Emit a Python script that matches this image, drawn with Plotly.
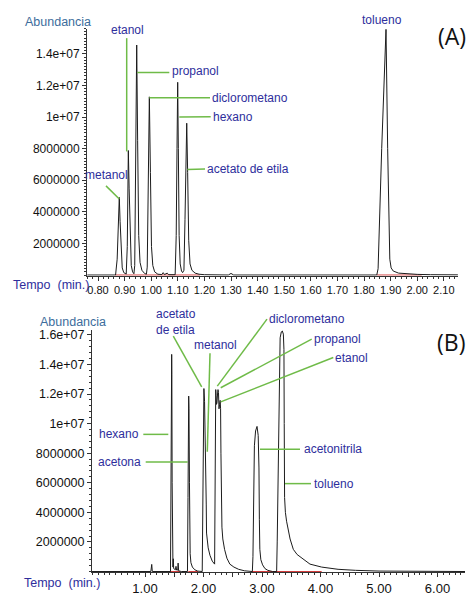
import plotly.graph_objects as go

W, H = 469, 596

# ---------------- DATA ----------------
# Panel A chromatogram: (time [min], abundance)
A_TRACE = [
    (0.760, 0), (0.866, 0),
    # metanol
    (0.872, 1.0e6), (0.877, 3.8e6), (0.880, 4.91e6), (0.883, 3.4e6), (0.887, 1.2e6),
    (0.891, 0.45e6), (0.897, 0.15e6), (0.903, 0.06e6),
    # etanol
    (0.906, 0.06e6), (0.910, 1.8e6), (0.912, 5.5e6), (0.914, 7.88e6), (0.917, 5.5e6),
    (0.921, 1.8e6), (0.925, 0.6e6), (0.930, 0.2e6), (0.935, 0.08e6),
    # propanol
    (0.938, 0.6e6), (0.942, 7.0e6), (0.9455, 14.56e6), (0.949, 8.5e6), (0.953, 2.5e6),
    (0.958, 0.8e6), (0.965, 0.3e6), (0.975, 0.1e6), (0.982, 0.05e6),
    # diclorometano
    (0.985, 0.5e6), (0.989, 5.5e6), (0.993, 11.28e6), (0.997, 6.5e6), (1.001, 1.8e6),
    (1.006, 0.6e6), (1.013, 0.2e6), (1.025, 0.05e6),
    (1.040, 0.03e6), (1.045, 0.15e6), (1.050, 0.03e6), (1.060, 0.12e6), (1.066, 0.02e6),
    (1.090, 0.02e6),
    # hexano
    (1.094, 2.5e6), (1.097, 8.0e6), (1.0996, 12.2e6), (1.102, 8.0e6), (1.105, 2.5e6),
    (1.109, 0.7e6), (1.114, 0.25e6), (1.118, 0.15e6),
    # acetato de etila
    (1.123, 0.3e6), (1.127, 3.5e6), (1.130, 7.5e6), (1.1335, 9.61e6), (1.137, 6.5e6),
    (1.141, 2.2e6), (1.146, 0.7e6), (1.153, 0.3e6), (1.165, 0.12e6), (1.180, 0.05e6),
    (1.200, 0.02e6),
    (1.290, 0), (1.300, 0.1e6), (1.310, 0), (1.848, 0),
    # tolueno
    (1.853, 0.4e6), (1.8665, 8.0e6), (1.876, 13.0e6), (1.8827, 15.55e6), (1.889, 8.0e6),
    (1.893, 3.0e6), (1.897, 1.0e6), (1.902, 0.45e6), (1.910, 0.25e6), (1.930, 0.12e6),
    (1.960, 0.07e6), (2.000, 0.04e6), (2.050, 0.02e6), (2.153, 0.01e6),
]

# Panel B chromatogram: (time [min], abundance)
B_TRACE = [
    (0.094, 0), (1.100, 0), (1.115, 0.48e6), (1.125, 0), (1.436, 0),
    # hexano
    (1.441, 5.0e6), (1.447, 13.3e6), (1.452, 13.4e6), (1.456, 14.68e6), (1.459, 13.3e6),
    (1.464, 6.0e6), (1.468, 1.5e6), (1.472, 0.5e6), (1.478, 0.3e6), (1.484, 0.86e6),
    (1.490, 0.2e6), (1.520, 0.12e6), (1.530, 0.35e6), (1.540, 0.1e6), (1.560, 0.1e6),
    (1.566, 0.57e6), (1.575, 0.05e6), (1.620, 0), (1.726, 0),
    # acetona
    (1.735, 5.0e6), (1.743, 11.5e6), (1.747, 11.86e6), (1.752, 11.0e6), (1.760, 6.0e6),
    (1.766, 2.5e6), (1.772, 1.2e6), (1.785, 0.6e6), (1.810, 0.3e6), (1.850, 0.12e6),
    (1.900, 0.03e6), (1.978, 0),
    # acetato de etila + metanol
    (1.985, 4.0e6), (1.995, 10.5e6), (2.007, 12.37e6), (2.018, 11.5e6), (2.028, 9.5e6),
    (2.034, 7.2e6), (2.038, 8.1e6), (2.042, 7.0e6), (2.047, 4.5e6), (2.052, 2.6e6),
    (2.060, 2.1e6), (2.080, 1.6e6), (2.110, 1.1e6), (2.150, 0.7e6), (2.190, 0.5e6),
    # diclorometano / propanol / etanol
    (2.195, 3.0e6), (2.200, 8.0e6), (2.205, 11.5e6), (2.209, 12.3e6), (2.215, 11.9e6),
    (2.222, 11.3e6), (2.230, 11.4e6), (2.240, 12.0e6), (2.248, 12.3e6), (2.256, 12.1e6),
    (2.265, 11.0e6), (2.275, 11.3e6), (2.285, 11.57e6), (2.292, 11.0e6), (2.298, 8.0e6),
    (2.305, 5.0e6), (2.315, 3.0e6), (2.330, 2.2e6), (2.360, 1.5e6), (2.400, 0.9e6),
    (2.450, 0.5e6), (2.520, 0.3e6), (2.600, 0.15e6), (2.700, 0.05e6), (2.835, 0),
    # acetonitrila
    (2.845, 1.0e6), (2.855, 5.0e6), (2.870, 8.5e6), (2.890, 9.5e6), (2.915, 9.81e6),
    (2.935, 9.2e6), (2.948, 7.0e6), (2.955, 3.5e6), (2.963, 1.5e6), (2.980, 0.8e6),
    (3.010, 0.45e6), (3.050, 0.2e6), (3.100, 0.08e6), (3.180, 0), (3.250, 0),
    # tolueno
    (3.260, 2.0e6), (3.280, 8.0e6), (3.300, 14.5e6), (3.310, 15.8e6), (3.330, 16.2e6),
    (3.347, 16.26e6), (3.365, 16.05e6), (3.375, 15.0e6), (3.380, 10.0e6), (3.386, 5.0e6),
    (3.400, 4.0e6), (3.420, 3.4e6), (3.480, 2.2e6), (3.535, 1.5e6), (3.600, 1.15e6),
    (3.680, 0.9e6), (3.820, 0.5e6), (4.020, 0.3e6), (4.300, 0.15e6), (4.600, 0.08e6),
    (5.000, 0.03e6), (6.470, 0),
]

# integration baselines (red), start/end times
A_BASELINE = [(0.864, 1.183), (1.848, 2.017)]
B_BASELINE = [(1.415, 1.600), (1.740, 1.910), (2.820, 4.020)]

A_XTICKS = [0.8, 0.9, 1.0, 1.1, 1.2, 1.3, 1.4, 1.5, 1.6, 1.7, 1.8, 1.9, 2.0, 2.1]
A_XTICKTEXT = ["0.80", "0.90", "1.00", "1.10", "1.20", "1.30", "1.40", "1.50",
               "1.60", "1.70", "1.80", "1.90", "2.00", "2.10"]
A_YTICKS = [2e6, 4e6, 6e6, 8e6, 1e7, 1.2e7, 1.4e7]
A_YTICKTEXT = ["2000000", "4000000", "6000000", "8000000", "1e+07", "1.2e+07", "1.4e+07"]

B_XTICKS = [1.0, 1.5, 2.0, 2.5, 3.0, 3.5, 4.0, 4.5, 5.0, 5.5, 6.0]
B_XTICKTEXT = ["1.00", "", "2.00", "", "3.00", "", "4.00", "", "5.00", "", "6.00"]
B_YTICKS = [2e6, 4e6, 6e6, 8e6, 1e7, 1.2e7, 1.4e7, 1.6e7]
B_YTICKTEXT = ["2000000", "4000000", "6000000", "8000000", "1e+07", "1.2e+07",
               "1.4e+07", "1.6e+07"]

A_NAMES = ["etanol", "propanol", "diclorometano", "hexano", "acetato de etila",
           "metanol", "tolueno"]
B_NAMES = ["hexano", "acetona", "acetato<br>de etila", "metanol", "diclorometano",
           "propanol", "etanol", "acetonitrila", "tolueno"]

Y_TITLE = "Abundancia"
X_TITLE = "Tempo&nbsp;&nbsp;(min.)"

# ---------------- STYLE / LAYOUT ----------------
FONT = "Liberation Sans, Arial, sans-serif"
LABEL_BLUE = "#2e2e9c"
TITLE_BLUE = "#3d6d9c"
GREEN = "#6fbb48"
RED = "#d23a3a"
LINE = "#1c1c1c"
AX = "#333333"


def px(x):
    return x / W


def py(y):
    return 1 - y / H


def baseline_xy(segs):
    xs, ys = [], []
    for a, b in segs:
        xs += [a, b, None]
        ys += [0, 0, None]
    return xs, ys


fig = go.Figure()

for trace, segs, xa, ya in [(A_TRACE, A_BASELINE, "x", "y"),
                            (B_TRACE, B_BASELINE, "x2", "y2")]:
    bx, by = baseline_xy(segs)
    fig.add_trace(go.Scatter(x=bx, y=by, mode="lines", xaxis=xa, yaxis=ya,
                             line=dict(color=RED, width=1), hoverinfo="skip",
                             showlegend=False))
    fig.add_trace(go.Scatter(x=[p[0] for p in trace], y=[p[1] for p in trace],
                             mode="lines", xaxis=xa, yaxis=ya,
                             line=dict(color=LINE, width=1), showlegend=False))


def axis_common(size):
    return dict(showgrid=False, zeroline=False, showline=True, linecolor=AX,
                linewidth=1, ticks="outside", ticklen=4, tickcolor=AX,
                tickfont=dict(family=FONT, size=size, color="#111111"),
                tickmode="array")


fig.update_layout(
    width=W, height=H, margin=dict(l=0, r=0, t=0, b=0),
    paper_bgcolor="white", plot_bgcolor="white", showlegend=False,
    xaxis=dict(**axis_common(11), domain=[px(87), px(458)], range=[0.7586, 2.1534],
               anchor="y", tickvals=A_XTICKS, ticktext=A_XTICKTEXT,
               minor=dict(ticks="outside", ticklen=2, dtick=0.02, tick0=0, tickcolor=AX)),
    yaxis=dict(**axis_common(12), domain=[py(278), py(27)], range=[-0.05e6, 15.6e6],
               anchor="x", tickvals=A_YTICKS, ticktext=A_YTICKTEXT,
               minor=dict(ticks="outside", ticklen=2, dtick=2e5, tick0=0, tickcolor=AX)),
    xaxis2=dict(**axis_common(13), domain=[px(92), px(465)], range=[0.094, 6.47],
                anchor="y2", tickvals=B_XTICKS, ticktext=B_XTICKTEXT,
                minor=dict(ticks="outside", ticklen=2, dtick=0.1, tick0=0, tickcolor=AX)),
    yaxis2=dict(**axis_common(12.5), domain=[py(579), py(333)], range=[-0.05e6, 16.33e6],
                anchor="x2", tickvals=B_YTICKS, ticktext=B_YTICKTEXT,
                minor=dict(ticks="outside", ticklen=2, dtick=4e5, tick0=0, tickcolor=AX)),
)

annotations = []


def label(text, x, y, anchor="left", color=LABEL_BLUE, size=12, family=FONT, align="left"):
    annotations.append(dict(text=text, x=px(x), y=py(y), xref="paper", yref="paper",
                            xanchor=anchor, yanchor="middle", showarrow=False,
                            align=align, font=dict(family=family, size=size, color=color)))


# panel A compound labels (pixel positions)
A_LABEL_POS = [(127.8, 28.3, "center"), (170, 70.5, "left"), (210, 97, "left"),
               (211, 116.5, "left"), (205, 169.5, "left"), (106.5, 176, "center"),
               (381.7, 18, "center")]
for name, (x, y, anc) in zip(A_NAMES, A_LABEL_POS):
    label(name, x, y, anc)

B_LABEL_POS = [(141, 439, "right"), (143, 467, "right"), (153.5, 325, "left"),
               (191.5, 348.3, "left"), (267, 321.7, "left"), (311.5, 342.3, "left"),
               (333, 361, "left"), (301.5, 454, "left"), (311.5, 489, "left")]
for name, (x, y, anc) in zip(B_NAMES, B_LABEL_POS):
    label(name, x, y, anc)

# axis titles and panel tags
label(Y_TITLE, 23, 20.5, "left", TITLE_BLUE, 12.5)
label(X_TITLE, 11, 287.5, "left", LABEL_BLUE, 12.5)
label(Y_TITLE, 38, 325, "left", TITLE_BLUE, 12.5)
label(X_TITLE, 22, 590, "left", LABEL_BLUE, 12.5)
label("(A)", 451.5, 35, "center", "#111111", 23, "Open Sans, sans-serif")
label("(B)", 451, 345, "center", "#111111", 23, "Open Sans, sans-serif")

fig.update_layout(annotations=annotations)

# green leader lines (pixel positions)
LEADERS = [
    (126.7, 36.7, 126.7, 151.7), (137.3, 71.7, 169.3, 71.7), (149.3, 97.3, 210, 97.3),
    (179.3, 116.7, 210.7, 116.5), (187.3, 170, 205, 169.5), (106, 186.7, 119.3, 200),
    (143.3, 439, 168.3, 439), (145.7, 467, 187.7, 467), (173.3, 339.3, 201.7, 390.7),
    (210, 356.7, 207.3, 456.7), (267, 322, 217.3, 390), (311.7, 342.3, 220.7, 391.7),
    (333.3, 361, 220.7, 406), (260, 454, 300, 454), (285, 489, 311, 489),
]
fig.update_layout(shapes=[dict(type="line", xref="paper", yref="paper",
                               x0=px(a), y0=py(b), x1=px(c), y1=py(d),
                               line=dict(color=GREEN, width=1.5))
                          for a, b, c, d in LEADERS])

fig.write_html("out.html",
               config={"displayModeBar": False},
               post_script="document.body.style.margin='0';"
                           "document.body.style.overflow='hidden';")
